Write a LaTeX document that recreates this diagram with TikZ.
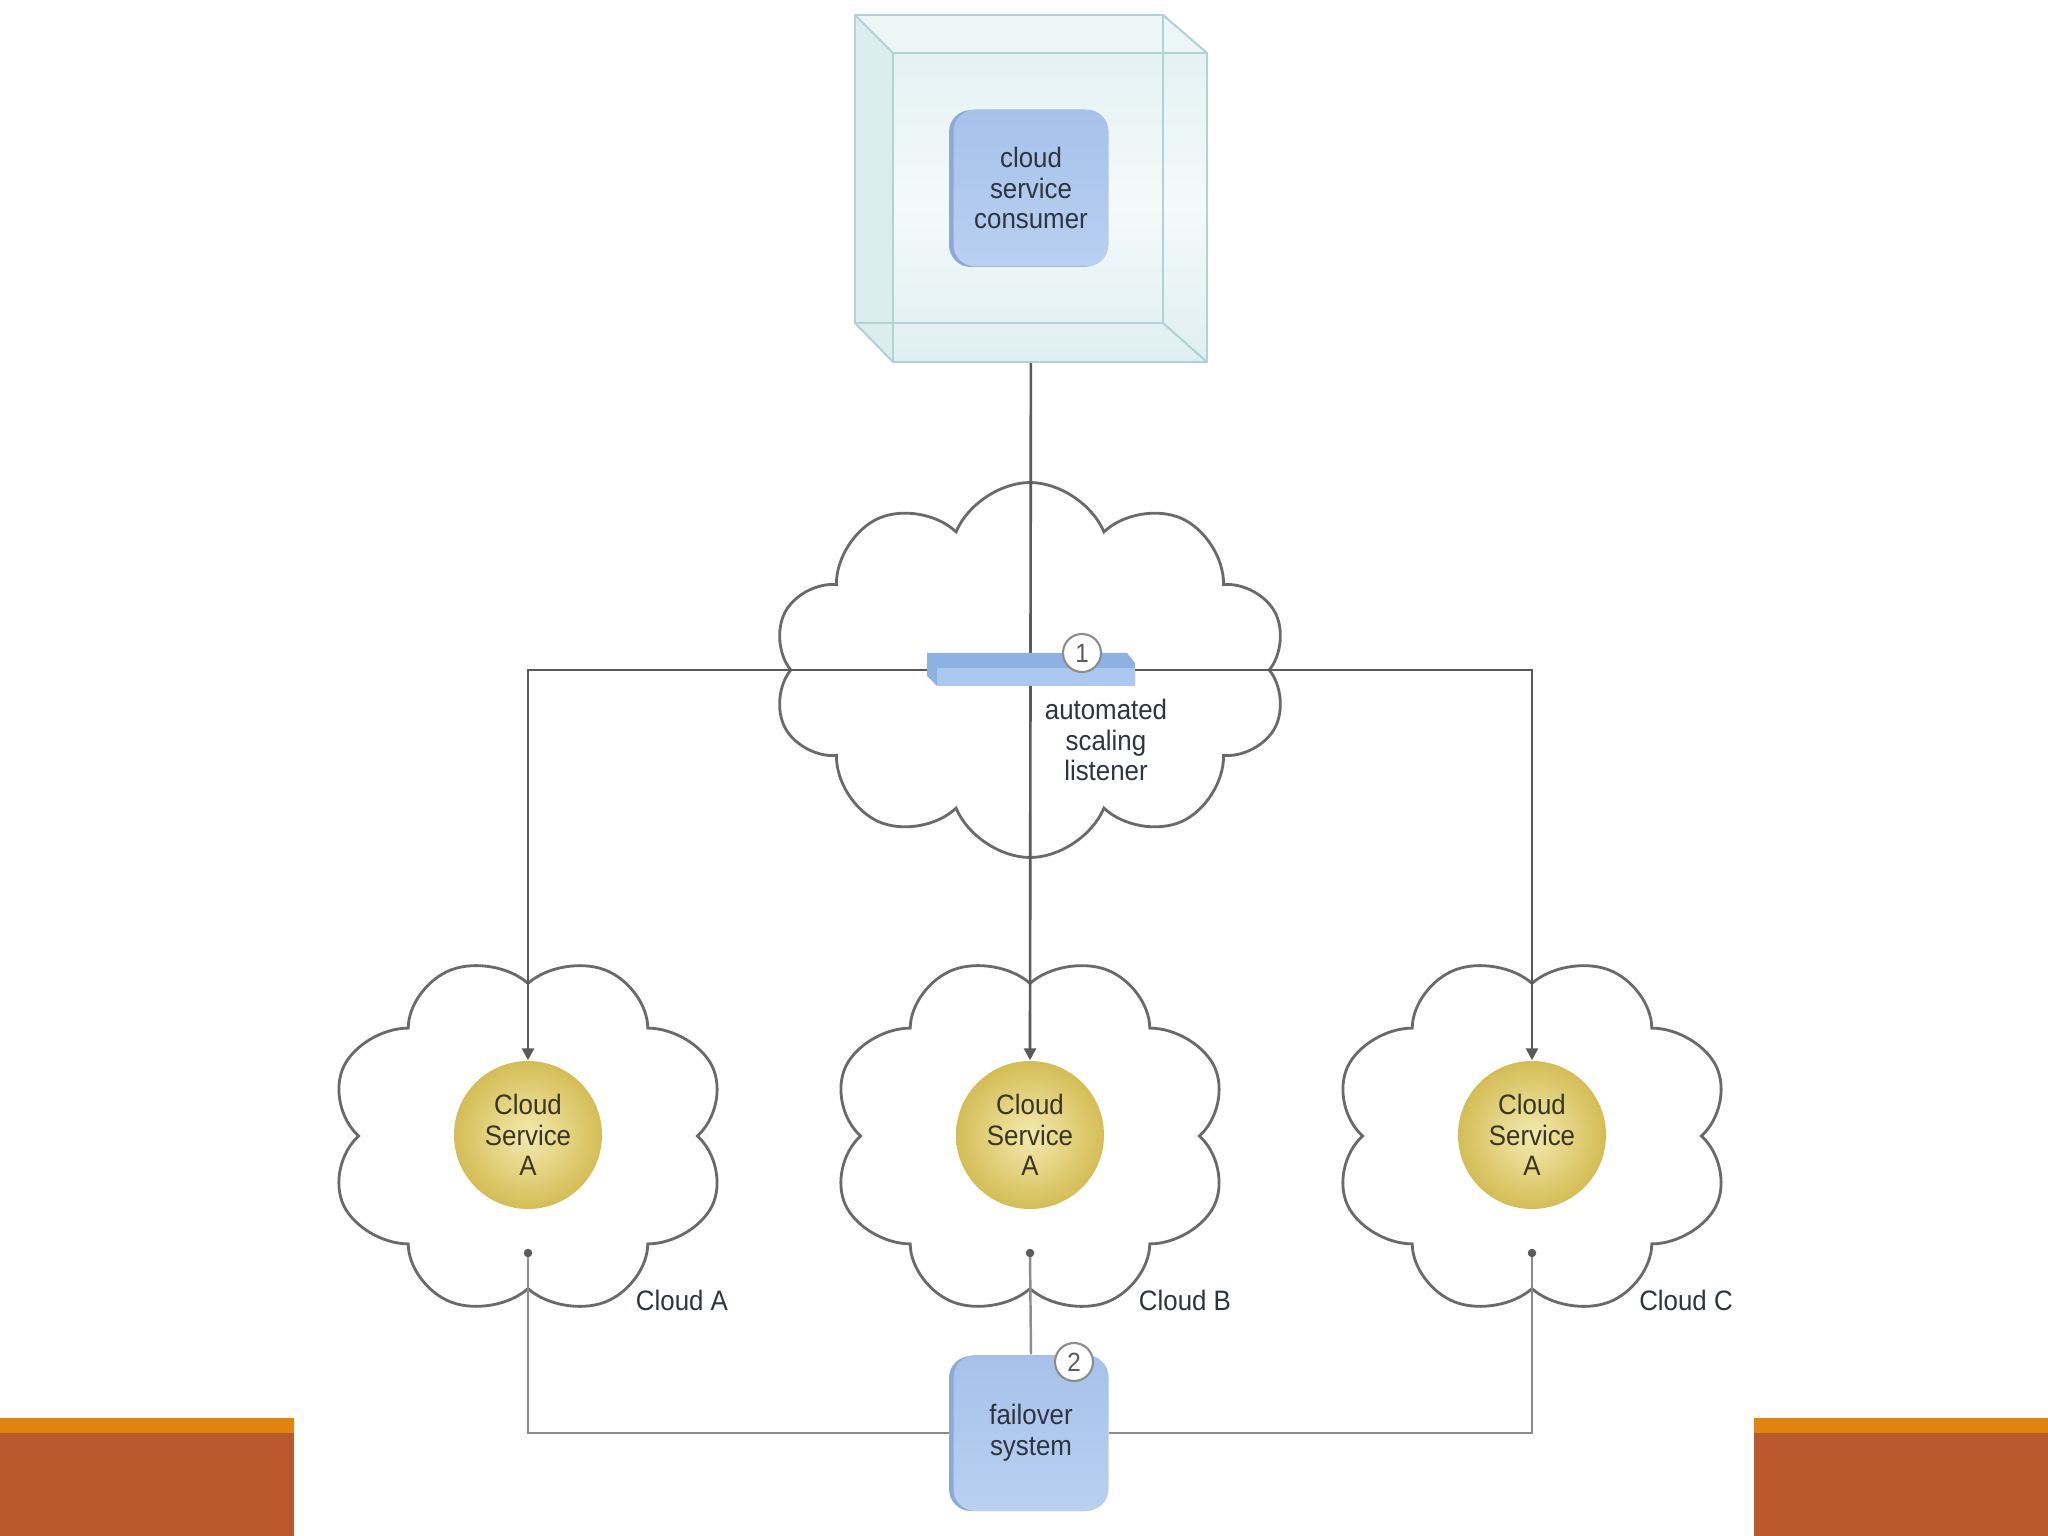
\documentclass[tikz,border=0pt]{standalone}
\usepackage{fontspec}
\setmainfont{Liberation Sans}[FakeStretch=0.92]
\usetikzlibrary{shapes.symbols,arrows.meta,calc}
\definecolor{lineC}{HTML}{5A5A5A}
\definecolor{lineL}{HTML}{8C8C8C}
\definecolor{cloudC}{HTML}{6A6A6A}
\definecolor{textC}{HTML}{2E3540}
\definecolor{svcText}{HTML}{3A3520}
\definecolor{boxTop}{HTML}{A7C1EA}
\definecolor{boxBot}{HTML}{B9D0F1}
\definecolor{boxDark}{HTML}{8EA8D8}
\definecolor{barTop}{HTML}{8FB0E2}
\definecolor{barFront}{HTML}{ABC9F0}
\definecolor{cubeFill}{HTML}{DBEDEF}
\definecolor{cubeFace}{HTML}{E4F2F3}
\definecolor{cubeLine}{HTML}{B3D2D6}
\definecolor{orangeC}{HTML}{E1830F}
\definecolor{brownC}{HTML}{B9592C}
\definecolor{ballIn}{HTML}{F4EAB0}
\definecolor{ballOut}{HTML}{D4BD55}
\pgfdeclarelayer{bg}
\pgfdeclarelayer{lines}
\pgfsetlayers{bg,lines,main}
\tikzset{
  txt/.style={font=\fontsize{8}{8.7}\selectfont, align=center},
  box/.style={txt, text=textC, rounded corners=0.22cm, minimum width=1.55cm,
    minimum height=1.57cm, inner sep=0pt, top color=boxTop, bottom color=boxBot},
  svc/.style={txt, text=svcText, circle, minimum size=1.48cm, inner sep=0pt,
    inner color=ballIn, outer color=ballOut},
  cloudS/.style={cloud, cloud puffs=8, cloud puff arc=135, cloud ignores aspect,
    draw=cloudC, line width=0.8pt, fill=white, inner sep=0pt},
  smallcloud/.style={cloudS, xscale=1.11, rotate=22.5, minimum width=3.6cm, minimum height=3.6cm},
  conn/.style={draw=lineC, line width=0.75pt},
  arr/.style={conn, -{Triangle[width=3.4pt,length=3.4pt]}},
  fl/.style={draw=lineL, line width=0.7pt},
  dotS/.style={circle, fill=lineC, inner sep=0pt, minimum size=0.085cm},
  badge/.style={circle, draw=lineL, fill=white, line width=0.6pt, minimum size=0.38cm,
    inner sep=0pt, text=lineC, font=\fontsize{7.5}{8}\selectfont},
  lab/.style={txt, text=textC}
}
\begin{document}
\begin{tikzpicture}[x=1cm,y=1cm]
\useasboundingbox (0,0) rectangle (20.48,-15.36);

\begin{pgfonlayer}{bg}
\fill[white] (0,0) rectangle (20.48,-15.36);
\node[cloudS, cloud puffs=10, minimum width=5.15cm, minimum height=3.75cm] (topcloud) at (10.30,-6.70) {};
\node[smallcloud] (cloudA) at (5.28,-11.36) {};
\node[smallcloud] (cloudB) at (10.30,-11.36) {};
\node[smallcloud] (cloudC) at (15.32,-11.36) {};
\end{pgfonlayer}

% orange bars
\fill[orangeC] (0,-14.18) rectangle (2.94,-14.33);
\fill[brownC] (0,-14.33) rectangle (2.94,-15.36);
\fill[orangeC] (17.54,-14.18) rectangle (20.48,-14.33);
\fill[brownC] (17.54,-14.33) rectangle (20.48,-15.36);

% cube
\fill[cubeFill] (8.55,-0.15) -- (11.63,-0.15) -- (12.07,-0.53) -- (12.07,-3.62)
  -- (8.93,-3.62) -- (8.55,-3.23) -- cycle;
\fill[cubeFace!70!white] (8.55,-0.15) -- (11.63,-0.15) -- (12.07,-0.53) -- (8.93,-0.53) -- cycle;
\shade[top color=cubeFace, bottom color=cubeFill!90!white, middle color=white!60!cubeFace]
  (8.93,-0.53) rectangle (12.07,-3.62);
\draw[cubeLine, line width=0.6pt] (8.55,-0.15) rectangle (11.63,-3.23);
\draw[cubeLine, line width=0.6pt] (8.93,-0.53) rectangle (12.07,-3.62);
\draw[cubeLine, line width=0.6pt] (8.55,-0.15)--(8.93,-0.53) (11.63,-0.15)--(12.07,-0.53)
  (8.55,-3.23)--(8.93,-3.62) (11.63,-3.23)--(12.07,-3.62);

% consumer
\fill[boxDark, rounded corners=0.22cm] (9.49,-1.10) rectangle (11.06,-2.67);
\node[box] (consumer) at (10.31,-1.88) {cloud\\service\\consumer};

% listener bar
\node[inner sep=0pt, minimum width=2.06cm, minimum height=0.33cm] (listener) at (10.30,-6.70) {};
\fill[barTop] (9.27,-6.53) -- (11.27,-6.53) -- (11.35,-6.63) -- (11.35,-6.86)
  -- (9.37,-6.86) -- (9.27,-6.76) -- cycle;
\fill[barFront] (9.37,-6.68) rectangle (11.35,-6.86);
\node[badge] (b1) at (10.82,-6.53) {1};
\node[lab] (listtxt) at (11.06,-7.40) {automated\\scaling\\listener};

% services
\node[svc] (svcA) at (5.28,-11.35) {Cloud\\Service\\A};
\node[svc] (svcB) at (10.30,-11.35) {Cloud\\Service\\A};
\node[svc] (svcC) at (15.32,-11.35) {Cloud\\Service\\A};

\node[dotS] (dotA) at (5.28,-12.53) {};
\node[dotS] (dotB) at (10.30,-12.53) {};
\node[dotS] (dotC) at (15.32,-12.53) {};

\node[lab] (labA) at (6.82,-13.00) {Cloud A};
\node[lab] (labB) at (11.85,-13.00) {Cloud B};
\node[lab] (labC) at (16.86,-13.00) {Cloud C};

% failover
\fill[boxDark, rounded corners=0.22cm] (9.49,-13.56) rectangle (11.06,-15.11);
\node[box, minimum height=1.56cm] (failover) at (10.31,-14.33) {failover\\system};
\node[badge] (b2) at (10.74,-13.62) {2};

% connectors
\begin{pgfonlayer}{lines}
\draw[arr] (consumer.south) -- (svcB.north);
\draw[arr] (listener.center) -| (svcA.north);
\draw[arr] (listener.center) -| (svcC.north);
\draw[fl] (dotA.center) |- (failover.west);
\draw[fl] (dotC.center) |- (failover.east);
\draw[fl] (dotB.center) -- (failover.north);
\end{pgfonlayer}
\end{tikzpicture}
\end{document}
